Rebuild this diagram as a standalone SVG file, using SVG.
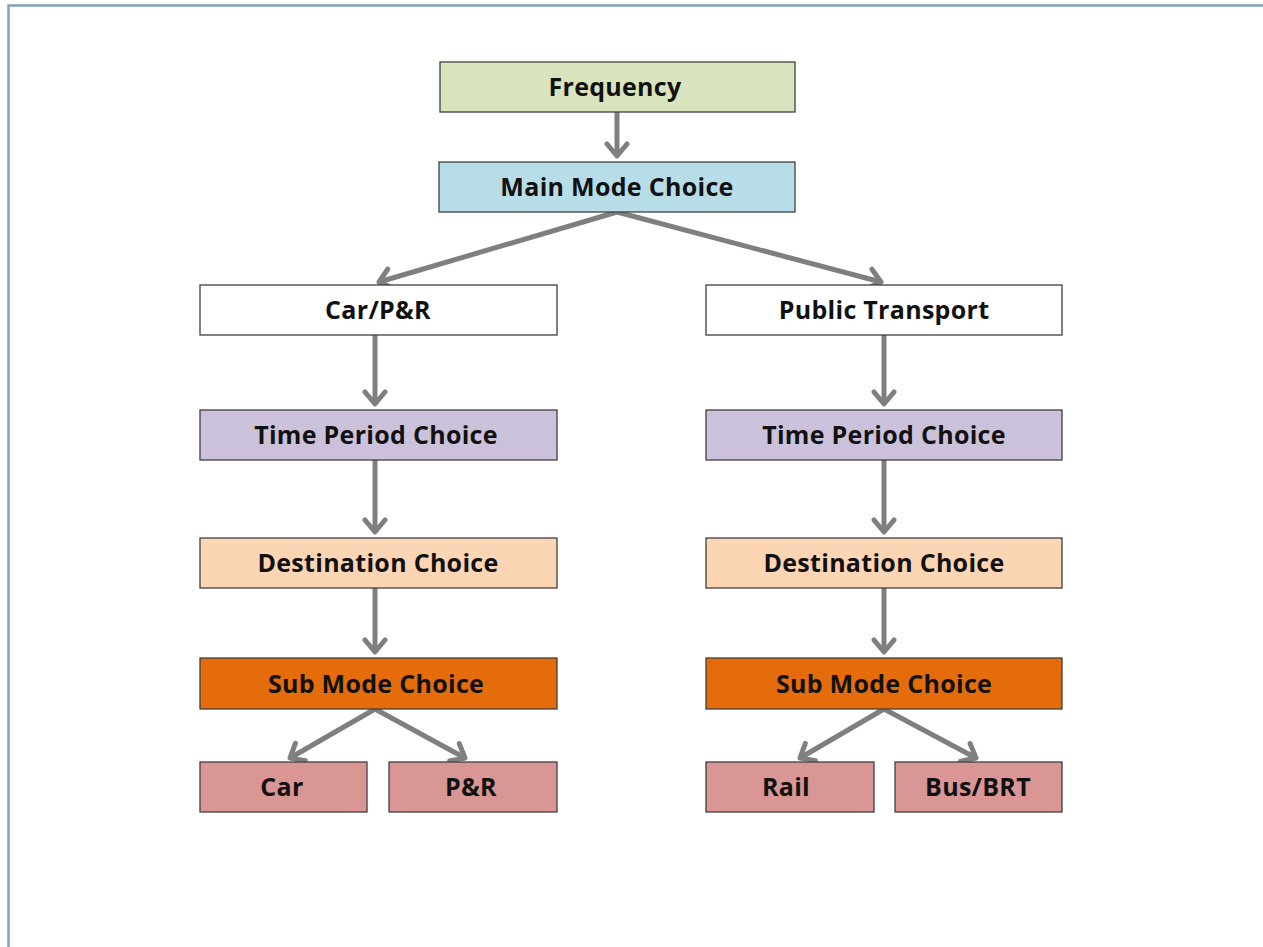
<svg xmlns="http://www.w3.org/2000/svg" width="1263" height="947" viewBox="0 0 1263 947">
<style>
.box{stroke:#404040;stroke-width:1.3}
.t{font-family:"Open Sans","Liberation Sans",sans-serif;font-weight:700;font-size:25px;fill:#111;text-anchor:middle;dominant-baseline:central;letter-spacing:0.3px}
.c{stroke:#7f7f7f;stroke-width:5;fill:none;marker-end:url(#ah)}
</style>
<defs>
<marker id="ah" markerUnits="userSpaceOnUse" markerWidth="30" markerHeight="30" viewBox="-15 -15 30 30" refX="0" refY="0" orient="auto">
<path d="M-12,-10 L0,0 L-12,10" fill="none" stroke="#7f7f7f" stroke-width="5" stroke-linecap="round" stroke-linejoin="round"/>
</marker>
</defs>
<rect x="0" y="0" width="1263" height="947" fill="#fff"/>
<path d="M8.5,947 V5.5 H1263" fill="none" stroke="#7fa3b8" stroke-width="2.5"/>
<g id="connectors">
<line class="c" x1="617" y1="112" x2="617" y2="156"/>
<line class="c" x1="617" y1="212" x2="379" y2="282"/>
<line class="c" x1="617" y1="212" x2="881" y2="282"/>
<line class="c" x1="375" y1="335" x2="375" y2="404"/>
<line class="c" x1="375" y1="460" x2="375" y2="532"/>
<line class="c" x1="375" y1="588" x2="375" y2="652"/>
<line class="c" x1="884" y1="335" x2="884" y2="404"/>
<line class="c" x1="884" y1="460" x2="884" y2="532"/>
<line class="c" x1="884" y1="588" x2="884" y2="652"/>
<line class="c" x1="375" y1="709" x2="290" y2="758"/>
<line class="c" x1="375" y1="709" x2="465" y2="758"/>
<line class="c" x1="884" y1="709" x2="800" y2="758"/>
<line class="c" x1="884" y1="709" x2="976" y2="758"/>
</g>
<g id="frequency"><rect class="box" x="440" y="62" width="355" height="50" fill="#d7e4bd"/><text class="t" x="615" y="86">Frequency</text></g>
<g id="main-mode"><rect class="box" x="439" y="162" width="356" height="50" fill="#b7dde8"/><text class="t" x="617" y="186">Main Mode Choice</text></g>
<g id="car-pr"><rect class="box" x="200" y="285" width="357" height="50" fill="#fff"/><text class="t" x="378" y="309">Car/P&amp;R</text></g>
<g id="public-transport"><rect class="box" x="706" y="285" width="356" height="50" fill="#fff"/><text class="t" x="884" y="309">Public Transport</text></g>
<g id="time-left"><rect class="box" x="200" y="410" width="357" height="50" fill="#ccc1da"/><text class="t" x="376" y="434">Time Period Choice</text></g>
<g id="time-right"><rect class="box" x="706" y="410" width="356" height="50" fill="#ccc1da"/><text class="t" x="884" y="434">Time Period Choice</text></g>
<g id="dest-left"><rect class="box" x="200" y="538" width="357" height="50" fill="#fcd5b5"/><text class="t" x="378" y="562">Destination Choice</text></g>
<g id="dest-right"><rect class="box" x="706" y="538" width="356" height="50" fill="#fcd5b5"/><text class="t" x="884" y="562">Destination Choice</text></g>
<g id="sub-left"><rect class="box" x="200" y="658" width="357" height="51" fill="#e46c0a"/><text class="t" x="376" y="683">Sub Mode Choice</text></g>
<g id="sub-right"><rect class="box" x="706" y="658" width="356" height="51" fill="#e46c0a"/><text class="t" x="884" y="683">Sub Mode Choice</text></g>
<g id="car"><rect class="box" x="200" y="762" width="167" height="50" fill="#d99694"/><text class="t" x="282" y="786">Car</text></g>
<g id="pr"><rect class="box" x="389" y="762" width="168" height="50" fill="#d99694"/><text class="t" x="471" y="786">P&amp;R</text></g>
<g id="rail"><rect class="box" x="706" y="762" width="168" height="50" fill="#d99694"/><text class="t" x="786" y="786">Rail</text></g>
<g id="bus-brt"><rect class="box" x="895" y="762" width="167" height="50" fill="#d99694"/><text class="t" x="978" y="786">Bus/BRT</text></g>
</svg>
